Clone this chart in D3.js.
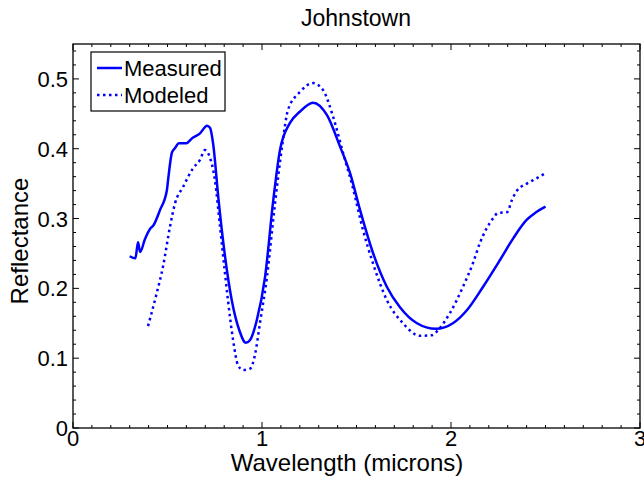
<!DOCTYPE html>
<html>
<head>
<meta charset="utf-8">
<script src="https://cdn.jsdelivr.net/npm/d3@7"></script>
<style>
  body { margin: 0; background: #fff; }
  text { font-family: "Liberation Sans", Arial, Helvetica, sans-serif; fill: #000; }
</style>
</head>
<body>
<svg id="chart" width="644" height="481"></svg>
<script>
// Measured spectrum (wavelength, reflectance)
const measuredX = [0.30, 0.33, 0.344, 0.355, 0.38, 0.41, 0.425, 0.46, 0.497, 0.503, 0.524, 0.54, 0.56, 0.60, 0.63, 0.672, 0.709, 0.725, 0.741, 0.77, 0.80, 0.84, 0.88, 0.915, 0.937, 0.973, 1.016, 1.06, 1.095, 1.148, 1.20, 1.27, 1.344, 1.413, 1.466, 1.519, 1.587, 1.661, 1.73, 1.82, 1.92, 2.01, 2.085, 2.169, 2.26, 2.33, 2.40, 2.45, 2.50];
const measuredY = [0.246, 0.243, 0.266, 0.252, 0.27, 0.286, 0.29, 0.312, 0.341, 0.355, 0.395, 0.401, 0.408, 0.408, 0.415, 0.422, 0.433, 0.43, 0.408, 0.327, 0.255, 0.183, 0.14, 0.122, 0.126, 0.155, 0.216, 0.327, 0.398, 0.437, 0.453, 0.466, 0.448, 0.403, 0.365, 0.312, 0.251, 0.202, 0.173, 0.150, 0.142, 0.150, 0.169, 0.202, 0.241, 0.272, 0.298, 0.309, 0.317];

// Modeled spectrum
const modeledX = [0.397, 0.44, 0.476, 0.513, 0.54, 0.582, 0.635, 0.672, 0.698, 0.725, 0.751, 0.778, 0.804, 0.82, 0.847, 0.873, 0.90, 0.937, 0.963, 0.989, 1.026, 1.069, 1.106, 1.138, 1.20, 1.27, 1.323, 1.376, 1.429, 1.48, 1.534, 1.587, 1.661, 1.746, 1.836, 1.90, 1.931, 1.995, 2.063, 2.116, 2.153, 2.222, 2.249, 2.296, 2.323, 2.349, 2.402, 2.455, 2.50];
const modeledY = [0.146, 0.19, 0.231, 0.288, 0.322, 0.345, 0.372, 0.384, 0.398, 0.387, 0.355, 0.288, 0.222, 0.183, 0.126, 0.09, 0.083, 0.085, 0.105, 0.15, 0.216, 0.322, 0.403, 0.456, 0.481, 0.494, 0.484, 0.446, 0.394, 0.345, 0.284, 0.236, 0.183, 0.150, 0.132, 0.133, 0.140, 0.165, 0.202, 0.236, 0.265, 0.30, 0.308, 0.309, 0.327, 0.34, 0.35, 0.358, 0.365];

const xTicks = [0, 1, 2, 3];
const yTicks = [0, 0.1, 0.2, 0.3, 0.4, 0.5];
const seriesNames = ["Measured", "Modeled"];

const svg = d3.select("#chart");
const margin = { left: 73, right: 4, top: 44, bottom: 53 };
const width = 644 - margin.left - margin.right;
const height = 481 - margin.top - margin.bottom;

const x = d3.scaleLinear().domain([0, 3]).range([0, width]);
const y = d3.scaleLinear().domain([0, 0.55]).range([height, 0]);

const g = svg.append("g").attr("transform", `translate(${margin.left},${margin.top})`);

// Minor ticks (inward, on all four sides)
const xMinor = d3.range(0, 3.0001, 0.1);
const yMinor = d3.range(0, 0.5501, 0.02);
const tickG = g.append("g").attr("stroke", "#000").attr("stroke-width", 1);
xMinor.forEach(v => {
    const len = Math.abs(v - Math.round(v)) < 1e-6 ? 6 : 3;
    tickG.append("line").attr("x1", x(v)).attr("x2", x(v)).attr("y1", height).attr("y2", height - len);
    tickG.append("line").attr("x1", x(v)).attr("x2", x(v)).attr("y1", 0).attr("y2", len);
});
yMinor.forEach(v => {
    const major = Math.abs(v * 10 - Math.round(v * 10)) < 1e-6;
    const len = major ? 6 : 3;
    tickG.append("line").attr("x1", 0).attr("x2", len).attr("y1", y(v)).attr("y2", y(v));
    tickG.append("line").attr("x1", width).attr("x2", width - len).attr("y1", y(v)).attr("y2", y(v));
});

// Box
g.append("rect").attr("width", width).attr("height", height)
    .attr("fill", "none").attr("stroke", "#000").attr("stroke-width", 1.3);

// Tick labels
g.selectAll(".xlab").data(xTicks).enter().append("text")
    .attr("x", d => x(d)).attr("y", height + 18)
    .attr("text-anchor", "middle").attr("font-size", 22)
    .text(d => d);
g.selectAll(".ylab").data(yTicks).enter().append("text")
    .attr("x", -5).attr("y", d => y(d) + 8)
    .attr("text-anchor", "end").attr("font-size", 22)
    .text(d => d);

// Axis titles
svg.append("text").attr("x", 347).attr("y", 471)
    .attr("text-anchor", "middle").attr("font-size", 24)
    .text("Wavelength (microns)");
svg.append("text").attr("transform", `translate(28,241) rotate(-90)`)
    .attr("text-anchor", "middle").attr("font-size", 24)
    .text("Reflectance");
svg.append("text").attr("x", 356).attr("y", 26)
    .attr("text-anchor", "middle").attr("font-size", 23)
    .text("Johnstown");

// Lines
const line = d3.line().x(d => x(d[0])).y(d => y(d[1])).curve(d3.curveMonotoneX);
const measured = measuredX.map((v, i) => [v, measuredY[i]]);
const modeled = modeledX.map((v, i) => [v, modeledY[i]]);

g.append("path").datum(measured).attr("d", line)
    .attr("fill", "none").attr("stroke", "#0000ff").attr("stroke-width", 2.5)
    .attr("stroke-linejoin", "round");
g.append("path").datum(modeled).attr("d", line)
    .attr("fill", "none").attr("stroke", "#0000ff").attr("stroke-width", 2.5)
    .attr("stroke-dasharray", "2.5,3.5");

// Legend
const leg = svg.append("g").attr("transform", "translate(91,52)");
leg.append("rect").attr("width", 134).attr("height", 59)
    .attr("fill", "#fff").attr("stroke", "#000").attr("stroke-width", 1.2);
seriesNames.forEach((name, i) => {
    const ly = 16 + i * 27;
    leg.append("line").attr("x1", 6).attr("x2", 31).attr("y1", ly).attr("y2", ly)
        .attr("stroke", "#0000ff").attr("stroke-width", 2.5)
        .attr("stroke-dasharray", i === 1 ? "2.5,3.5" : null);
    leg.append("text").attr("x", 33).attr("y", ly + 8).attr("font-size", 22).text(name);
});
</script>
</body>
</html>
